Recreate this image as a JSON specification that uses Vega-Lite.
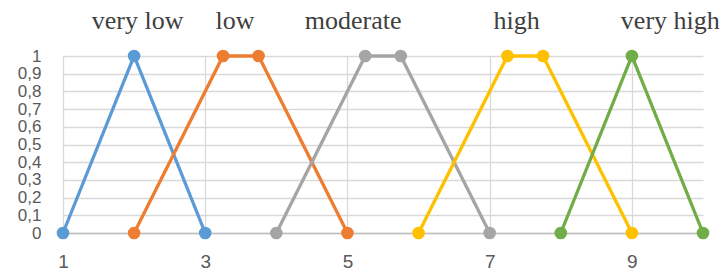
{
  "$schema": "https://vega.github.io/schema/vega-lite/v6.json",
  "autosize": "none",
  "width": 640,
  "height": 177,
  "padding": {"left": 63, "top": 56, "right": 20, "bottom": 41},
  "background": "white",
  "config": {"view": {"stroke": null}},
  "datasets": {
    "pts": [
      {"series": "very low", "x": 1, "y": 0},
      {"series": "very low", "x": 2, "y": 1},
      {"series": "very low", "x": 3, "y": 0},
      {"series": "low", "x": 2, "y": 0},
      {"series": "low", "x": 3.25, "y": 1},
      {"series": "low", "x": 3.75, "y": 1},
      {"series": "low", "x": 5, "y": 0},
      {"series": "moderate", "x": 4, "y": 0},
      {"series": "moderate", "x": 5.25, "y": 1},
      {"series": "moderate", "x": 5.75, "y": 1},
      {"series": "moderate", "x": 7, "y": 0},
      {"series": "high", "x": 6, "y": 0},
      {"series": "high", "x": 7.25, "y": 1},
      {"series": "high", "x": 7.75, "y": 1},
      {"series": "high", "x": 9, "y": 0},
      {"series": "very high", "x": 8, "y": 0},
      {"series": "very high", "x": 9, "y": 1},
      {"series": "very high", "x": 10, "y": 0}
    ],
    "labels": [
      {"label": "very low", "x": 2.05, "y": 1.2},
      {"label": "low", "x": 3.42, "y": 1.2},
      {"label": "moderate", "x": 5.08, "y": 1.2},
      {"label": "high", "x": 7.38, "y": 1.2},
      {"label": "very high", "x": 9.54, "y": 1.2}
    ]
  },
  "encoding": {
    "x": {
      "field": "x", "type": "quantitative",
      "scale": {"domain": [1, 10], "nice": false, "zero": false},
      "axis": {
        "values": [1, 3, 5, 7, 9], "format": "d", "title": null, "grid": true,
        "gridColor": "#D9D9D9", "gridWidth": 1.3, "ticks": false,
        "domainColor": "#BFBFBF", "domainWidth": 1.5,
        "labelFont": "Liberation Sans", "labelFontSize": 19, "labelColor": "#595959",
        "labelPadding": 19, "labelFlush": false, "labelOverlap": false
      }
    },
    "y": {
      "field": "y", "type": "quantitative",
      "scale": {"domain": [0, 1], "nice": false},
      "axis": {
        "values": [0, 0.1, 0.2, 0.3, 0.4, 0.5, 0.6, 0.7, 0.8, 0.9, 1],
        "labelExpr": "replace(format(datum.value, '~g'), '.', ',')",
        "title": null, "grid": true, "gridColor": "#D9D9D9", "gridWidth": 1.3,
        "ticks": false, "domain": false,
        "labelFont": "Liberation Sans", "labelFontSize": 17, "labelColor": "#595959",
        "labelPadding": 22, "labelOverlap": false, "labelFlush": false, "labelBaseline": "middle"
      }
    }
  },
  "layer": [
    {
      "data": {"name": "pts"},
      "mark": {"type": "line", "strokeWidth": 3.3, "clip": false},
      "encoding": {
        "color": {
          "field": "series", "type": "nominal",
          "scale": {
            "domain": ["very low", "low", "moderate", "high", "very high"],
            "range": ["#5B9BD5", "#ED7D31", "#A5A5A5", "#FFC000", "#70AD47"]
          },
          "legend": null
        }
      }
    },
    {
      "data": {"name": "pts"},
      "mark": {"type": "point", "filled": true, "opacity": 1, "size": 160, "clip": false},
      "encoding": {
        "color": {"field": "series", "type": "nominal", "legend": null}
      }
    },
    {
      "data": {"name": "labels"},
      "mark": {"type": "text", "font": "Liberation Serif", "fontSize": 26, "color": "#404040", "baseline": "middle", "align": "center"},
      "encoding": {
        "text": {"field": "label"}
      }
    }
  ]
}
